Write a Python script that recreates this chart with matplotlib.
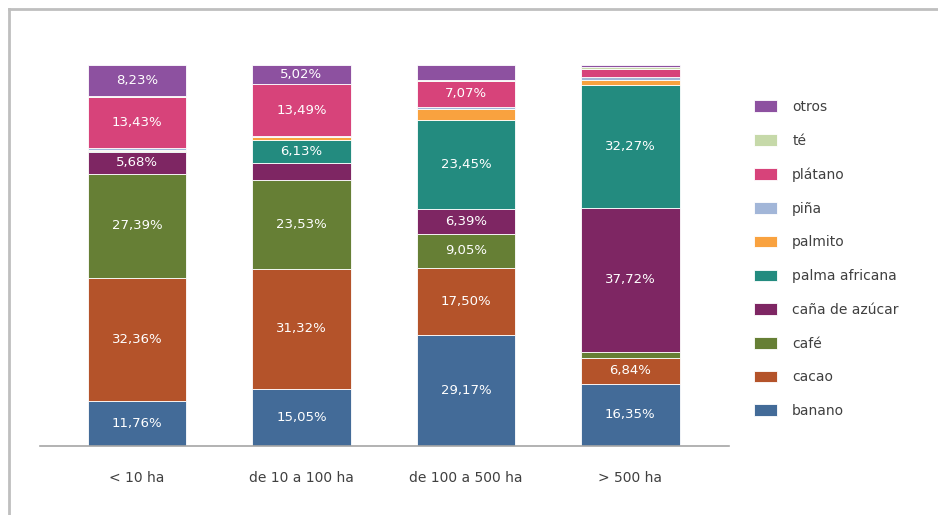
import matplotlib
matplotlib.use("Agg")
import matplotlib.pyplot as plt
from matplotlib.lines import Line2D
import numpy as np

plt.rcParams['font.family'] = ['DejaVu Sans']

# categories (farm size)
categorias = ['< 10 ha', 'de 10 a 100 ha', 'de 100 a 500 ha', '> 500 ha']

# series, bottom to top (percent of area)
series = ['banano', 'cacao', 'café', 'caña de azúcar', 'palma africana',
          'palmito', 'piña', 'plátano', 'té', 'otros']
banano = [11.76, 15.05, 29.17, 16.35]
cacao = [32.36, 31.32, 17.50, 6.84]
cafe = [27.39, 23.53, 9.05, 1.60]
cana = [5.68, 4.40, 6.39, 37.72]
palma = [0.20, 6.13, 23.45, 32.27]
palmito = [0.40, 0.60, 2.90, 1.40]
pina = [0.45, 0.40, 0.40, 0.60]
platano = [13.43, 13.49, 7.07, 2.30]
te = [0.10, 0.06, 0.10, 0.40]
otros = [8.23, 5.02, 3.97, 0.52]

colores = ['#436B98', '#B4532A', '#667F35', '#7E2663', '#238B7F',
           '#F9A23F', '#A2B6D8', '#D7437A', '#C6D9A9', '#8D51A0']

datos = [banano, cacao, cafe, cana, palma, palmito, pina, platano, te, otros]

fig = plt.figure(figsize=(9.38, 5.15), dpi=100)
ax = fig.add_axes([40 / 938, 1 - 446 / 515, 689 / 938, 381 / 515])

x = np.arange(len(categorias))
base = np.zeros(len(categorias))
for nombre, vals, col in zip(series, datos, colores):
    vals = np.array(vals)
    ax.bar(x, vals, 0.6, bottom=base, color=col, edgecolor='white',
           linewidth=0.6, label=nombre)
    for xi, b, v in zip(x, base, vals):
        if v >= 5:
            ax.text(xi, b + v / 2, f"{v:.2f}%".replace('.', ','),
                    ha='center', va='center', color='white', fontsize=9.5)
    base += vals

ax.set_xlim(-0.59, 3.6)
ax.set_ylim(0, 100)
for s in ['top', 'right', 'left']:
    ax.spines[s].set_visible(False)
ax.spines['bottom'].set_color('#A6A6A6')
ax.spines['bottom'].set_linewidth(1.2)
ax.set_yticks([])
ax.set_xticks(x)
ax.set_xticklabels(categorias, fontsize=10, color='#404040')
ax.tick_params(axis='x', length=0, pad=18)

# legend, top to bottom is reverse stacking order
h, l = ax.get_legend_handles_labels()
fig.legend(h[::-1], l[::-1], loc='upper left', bbox_to_anchor=(754 / 938, 1 - 100 / 515),
           frameon=False, fontsize=10, labelcolor='#404040',
           handlelength=1.65, handleheight=0.9, handletextpad=1.1,
           labelspacing=1.42, borderaxespad=0, borderpad=0)

# chart frame (only top and left edges visible)
fig.add_artist(Line2D([9 / 938, 9 / 938], [0, 1 - 9 / 515], color='#BFBFBF',
                      linewidth=2, transform=fig.transFigure))
fig.add_artist(Line2D([9 / 938, 1], [1 - 9 / 515, 1 - 9 / 515], color='#BFBFBF',
                      linewidth=2, transform=fig.transFigure))

fig.savefig('out.png', dpi=100, facecolor='white')
